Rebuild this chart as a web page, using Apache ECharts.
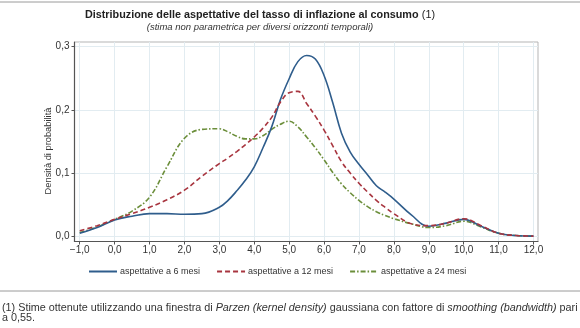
<!DOCTYPE html>
<html>
<head>
<meta charset="utf-8">
<script src="https://cdn.jsdelivr.net/npm/echarts@6/dist/echarts.min.js"></script>
<style>
html,body{margin:0;padding:0;background:#fff;}
#c{width:580px;height:328px;}
</style>
</head>
<body>
<div id="c"></div>
<script>
// Data (x = inflation expectation, %, y = probability density)
const xValues = [-1, -0.5, 0, 0.5, 1, 1.5, 2, 2.5, 3, 3.25, 3.5, 3.75, 4, 4.25, 4.5, 4.75, 5, 5.25, 5.5, 5.75, 6, 6.25, 6.5, 6.75, 7, 7.25, 7.5, 7.75, 8, 8.5, 9, 9.5, 10, 10.5, 11, 11.5, 12];
const mesi6  = [0.005, 0.014, 0.026, 0.032, 0.036, 0.036, 0.035, 0.036, 0.046, 0.057, 0.072, 0.089, 0.110, 0.140, 0.173, 0.216, 0.249, 0.276, 0.2858, 0.280, 0.254, 0.211, 0.163, 0.133, 0.114, 0.097, 0.080, 0.070, 0.059, 0.034, 0.016, 0.021, 0.027, 0.016, 0.005, 0.0015, 0.0005];
const mesi12 = [0.009, 0.017, 0.027, 0.036, 0.046, 0.058, 0.073, 0.095, 0.115, 0.124, 0.134, 0.145, 0.157, 0.171, 0.188, 0.212, 0.227, 0.229, 0.210, 0.190, 0.168, 0.143, 0.118, 0.100, 0.084, 0.070, 0.057, 0.046, 0.036, 0.020, 0.017, 0.021, 0.028, 0.017, 0.005, 0.0015, 0.0005];
const mesi24 = [0.006, 0.015, 0.027, 0.040, 0.062, 0.110, 0.155, 0.169, 0.170, 0.165, 0.158, 0.154, 0.154, 0.159, 0.169, 0.177, 0.182, 0.173, 0.157, 0.140, 0.121, 0.101, 0.083, 0.069, 0.057, 0.047, 0.039, 0.033, 0.028, 0.020, 0.014, 0.017, 0.024, 0.015, 0.005, 0.0015, 0.0005];
const seriesNames = ['aspettative a 6 mesi', 'aspettative a 12 mesi', 'aspettative a 24 mesi'];
const xTicks = [-1, 0, 1, 2, 3, 4, 5, 6, 7, 8, 9, 10, 11, 12];
const yTicks = [0, 0.1, 0.2, 0.3];

const fmt = v => v.toFixed(1).replace('.', ',').replace('-', '\u2212');
const pairs = arr => xValues.map((x, i) => [x, arr[i]]);

const font = '"Liberation Sans", Arial, Helvetica, sans-serif';
const chart = echarts.init(document.getElementById('c'), null, {renderer: 'canvas'});
chart.setOption({
  animation: false,
  textStyle: {fontFamily: font},
  grid: {left: 74.5, right: 42, top: 42, bottom: 86.5, show: true, borderColor: '#b5b5b5', borderWidth: 1, containLabel: false},
  xAxis: {
    type: 'value', min: -1.15, max: 12.13,
    axisLine: {show: true, onZero: false, lineStyle: {color: '#555', width: 1.2}},
    axisTick: {show: true, length: 3, lineStyle: {color: '#555'}, customValues: xTicks},
    axisLabel: {customValues: xTicks, formatter: fmt, color: '#333', fontSize: 10, margin: 4, fontFamily: font},
    splitLine: {show: true, lineStyle: {color: '#e2ecf1', width: 1}}
  },
  yAxis: {
    type: 'value', min: -0.008, max: 0.307,
    axisLine: {show: true, onZero: false, lineStyle: {color: '#555', width: 1.2}},
    axisTick: {show: true, length: 3, lineStyle: {color: '#555'}, customValues: yTicks},
    axisLabel: {customValues: yTicks, formatter: fmt, color: '#333', fontSize: 10, margin: 5, fontFamily: font},
    splitLine: {show: true, lineStyle: {color: '#e2ecf1', width: 1}}
  },
  legend: {
    left: 83, top: 262, itemGap: 16, itemWidth: 28, itemHeight: 8,
    itemStyle: {opacity: 0},
    textStyle: {fontSize: 9, color: '#333', fontFamily: font, padding: [0, 0, 0, -2]},
    data: seriesNames
  },
  series: [
    {name: seriesNames[0], type: 'line', data: pairs(mesi6), smooth: 0.4, symbol: 'none',
     lineStyle: {color: '#2f5d8c', width: 1.6}, itemStyle: {color: '#2f5d8c'}, z: 3},
    {name: seriesNames[1], type: 'line', data: pairs(mesi12), smooth: 0.4, symbol: 'none',
     lineStyle: {color: '#a8353f', width: 1.6, type: [5, 3]}, itemStyle: {color: '#a8353f'}, z: 4},
    {name: seriesNames[2], type: 'line', data: pairs(mesi24), smooth: 0.4, symbol: 'none',
     lineStyle: {color: '#6b8e3a', width: 1.6, type: [5, 2, 1.5, 2]}, itemStyle: {color: '#6b8e3a'}, z: 2}
  ],
  graphic: [
    {type: 'line', shape: {x1: 0, y1: 2, x2: 580, y2: 2}, style: {stroke: '#9a9a9a', lineWidth: 1}},
    {type: 'line', shape: {x1: 0, y1: 291, x2: 580, y2: 291}, style: {stroke: '#9a9a9a', lineWidth: 1}},
    {type: 'text', x: 260, y: 15, style: {
      text: '{b|Distribuzione delle aspettative del tasso di inflazione al consumo} {n|(1)}',
      align: 'center', verticalAlign: 'middle',
      rich: {
        b: {fontSize: 10.8, fontWeight: 'bold', fill: '#222', fontFamily: font},
        n: {fontSize: 10.8, fill: '#222', fontFamily: font}
      }
    }},
    {type: 'text', x: 260, y: 27, style: {
      text: '(stima non parametrica per diversi orizzonti temporali)',
      align: 'center', verticalAlign: 'middle', fontSize: 9.5, fontStyle: 'italic', fill: '#333', fontFamily: font
    }},
    {type: 'text', x: 48, y: 151, rotation: Math.PI / 2, style: {
      text: 'Densità di probabilità', align: 'center', verticalAlign: 'middle', fontSize: 9.3, fill: '#333', fontFamily: font
    }},
    {type: 'text', x: 2, y: 313, style: {
      text: '{r|(1) Stime ottenute utilizzando una finestra di }{i|Parzen (kernel density)}{r| gaussiana con fattore di }{i|smoothing (bandwidth)}{r| pari}\n{r|a 0,55.}',
      verticalAlign: 'middle', lineHeight: 10,
      rich: {
        r: {fontSize: 10.8, fill: '#333', fontFamily: font, lineHeight: 10},
        i: {fontSize: 10.8, fill: '#333', fontStyle: 'italic', fontFamily: font, lineHeight: 10}
      }
    }}
  ]
});
</script>
</body>
</html>
